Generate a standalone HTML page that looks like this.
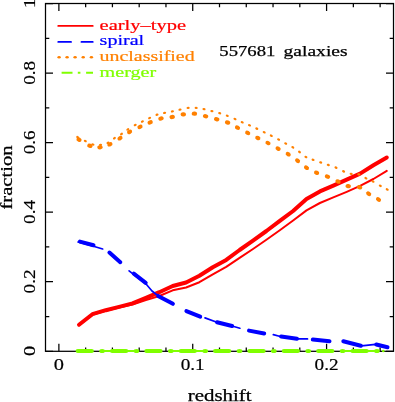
<!DOCTYPE html><html><head><meta charset="utf-8"><style>html,body{margin:0;padding:0;background:#fff}svg{will-change:transform;opacity:.999}</style></head><body><svg width="395" height="402" viewBox="0 0 395 402" style="display:block">
<rect width="395" height="402" fill="#fff"/>
<rect x="45.5" y="3.5" width="348.0" height="347.8" fill="none" stroke="#000" stroke-width="1.25"/>
<path d="M58.88 351.3 v-7.5 M58.88 3.5 v7.5 M85.65 351.3 v-3.8 M85.65 3.5 v3.8 M112.42 351.3 v-3.8 M112.42 3.5 v3.8 M139.19 351.3 v-3.8 M139.19 3.5 v3.8 M165.96 351.3 v-3.8 M165.96 3.5 v3.8 M192.73 351.3 v-7.5 M192.73 3.5 v7.5 M219.50 351.3 v-3.8 M219.50 3.5 v3.8 M246.27 351.3 v-3.8 M246.27 3.5 v3.8 M273.04 351.3 v-3.8 M273.04 3.5 v3.8 M299.81 351.3 v-3.8 M299.81 3.5 v3.8 M326.58 351.3 v-7.5 M326.58 3.5 v7.5 M353.35 351.3 v-3.8 M353.35 3.5 v3.8 M380.12 351.3 v-3.8 M380.12 3.5 v3.8 M45.5 351.30 h7.5 M393.5 351.30 h-7.5 M45.5 316.52 h3.8 M393.5 316.52 h-3.8 M45.5 281.74 h7.5 M393.5 281.74 h-7.5 M45.5 246.96 h3.8 M393.5 246.96 h-3.8 M45.5 212.18 h7.5 M393.5 212.18 h-7.5 M45.5 177.40 h3.8 M393.5 177.40 h-3.8 M45.5 142.62 h7.5 M393.5 142.62 h-7.5 M45.5 107.84 h3.8 M393.5 107.84 h-3.8 M45.5 73.06 h7.5 M393.5 73.06 h-7.5 M45.5 38.28 h3.8 M393.5 38.28 h-3.8 M45.5 3.50 h7.5 M393.5 3.50 h-7.5" stroke="#000" stroke-width="1.25" fill="none"/>
<polyline points="79.0,325.1 92.4,314.8 105.8,310.7 119.1,307.6 132.5,304.5 145.9,300.1 159.3,296.0 172.7,290.3 186.1,287.5 199.4,282.2 212.8,274.3 226.2,266.9 239.6,257.8 253.0,249.0 266.4,239.8 279.8,230.2 293.1,220.5 306.5,210.4 319.9,203.0 333.3,197.4 346.7,191.8 360.1,185.9 373.4,179.0 386.8,170.9" fill="none" stroke="#f00" stroke-width="2" stroke-linejoin="round" stroke-linecap="round"/>
<polyline points="79.0,324.7 92.4,314.2 105.8,310.2 119.1,306.9 132.5,303.4 145.9,297.9 159.3,292.2 172.7,286.0 186.1,282.5 199.4,275.8 212.8,267.2 226.2,259.9 239.6,250.0 253.0,240.6 266.4,231.0 279.8,220.9 293.1,211.0 306.5,199.1 319.9,191.4 333.3,185.6 346.7,179.6 360.1,173.6 373.4,165.3 386.8,157.6" fill="none" stroke="#f00" stroke-width="4.0" stroke-linejoin="round" stroke-linecap="round"/>
<polyline points="78.0,242.0 94.3,246.5 102.7,249.0" fill="none" stroke="#00f" stroke-width="1.7" stroke-linecap="round" stroke-linejoin="round"/>
<polyline points="129.1,270.8 146.3,284.3 152.0,291.0 156.4,294.5" fill="none" stroke="#00f" stroke-width="1.7" stroke-linecap="round" stroke-linejoin="round"/>
<polyline points="205.0,317.9 216.2,322.0 232.9,326.2 239.9,328.2" fill="none" stroke="#00f" stroke-width="1.7" stroke-linecap="round" stroke-linejoin="round"/>
<polyline points="273.3,334.6 280.3,336.5 297.8,338.9 307.5,338.9" fill="none" stroke="#00f" stroke-width="1.7" stroke-linecap="round" stroke-linejoin="round"/>
<polyline points="361.6,345.9 375.3,344.3 387.0,347.0" fill="none" stroke="#00f" stroke-width="1.7" stroke-linecap="round" stroke-linejoin="round"/>
<line x1="79.9" y1="241.6" x2="93.5" y2="245.3" stroke="#00f" stroke-width="4.0" stroke-linecap="round"/>
<line x1="109.4" y1="252.5" x2="120.3" y2="262.2" stroke="#00f" stroke-width="4.0" stroke-linecap="round"/>
<line x1="133.8" y1="273.7" x2="145.7" y2="282.8" stroke="#00f" stroke-width="4.0" stroke-linecap="round"/>
<line x1="158.1" y1="295.9" x2="172.9" y2="303.8" stroke="#00f" stroke-width="4.0" stroke-linecap="round"/>
<line x1="186.4" y1="311.1" x2="200.2" y2="316.7" stroke="#00f" stroke-width="4.0" stroke-linecap="round"/>
<line x1="217.0" y1="322.2" x2="232.1" y2="326.0" stroke="#00f" stroke-width="4.0" stroke-linecap="round"/>
<line x1="249.0" y1="330.6" x2="264.2" y2="333.5" stroke="#00f" stroke-width="4.0" stroke-linecap="round"/>
<line x1="281.1" y1="336.6" x2="297.0" y2="338.8" stroke="#00f" stroke-width="4.0" stroke-linecap="round"/>
<line x1="312.8" y1="339.6" x2="329.5" y2="341.2" stroke="#00f" stroke-width="4.0" stroke-linecap="round"/>
<line x1="343.3" y1="341.2" x2="360.8" y2="345.7" stroke="#00f" stroke-width="4.0" stroke-linecap="round"/>
<line x1="376.3" y1="344.5" x2="387.5" y2="347.2" stroke="#00f" stroke-width="4.0" stroke-linecap="round"/>
<ellipse cx="77.7" cy="137.2" rx="1.6" ry="1.15" fill="#ff8000" transform="rotate(27 77.7 137.2)"/>
<ellipse cx="85.3" cy="141" rx="1.6" ry="1.15" fill="#ff8000" transform="rotate(26 85.3 141)"/>
<ellipse cx="92.9" cy="144.5" rx="1.6" ry="1.15" fill="#ff8000" transform="rotate(14 92.9 144.5)"/>
<ellipse cx="100.5" cy="144.8" rx="1.6" ry="1.15" fill="#ff8000" transform="rotate(-6 100.5 144.8)"/>
<ellipse cx="108" cy="142.8" rx="1.6" ry="1.15" fill="#ff8000" transform="rotate(-25 108 142.8)"/>
<ellipse cx="114.4" cy="138.2" rx="1.6" ry="1.15" fill="#ff8000" transform="rotate(-33 114.4 138.2)"/>
<ellipse cx="121.5" cy="134" rx="1.6" ry="1.15" fill="#ff8000" transform="rotate(-33 121.5 134)"/>
<ellipse cx="127.8" cy="129.4" rx="1.6" ry="1.15" fill="#ff8000" transform="rotate(-33 127.8 129.4)"/>
<ellipse cx="135.2" cy="125" rx="1.6" ry="1.15" fill="#ff8000" transform="rotate(-28 135.2 125)"/>
<ellipse cx="142.4" cy="121.5" rx="1.6" ry="1.15" fill="#ff8000" transform="rotate(-26 142.4 121.5)"/>
<ellipse cx="149.6" cy="118" rx="1.6" ry="1.15" fill="#ff8000" transform="rotate(-25 149.6 118)"/>
<ellipse cx="157" cy="114.7" rx="1.6" ry="1.15" fill="#ff8000" transform="rotate(-19 157 114.7)"/>
<ellipse cx="164.6" cy="112.9" rx="1.6" ry="1.15" fill="#ff8000" transform="rotate(-12 164.6 112.9)"/>
<ellipse cx="172.4" cy="111.4" rx="1.6" ry="1.15" fill="#ff8000" transform="rotate(-12 172.4 111.4)"/>
<ellipse cx="180" cy="109.6" rx="1.6" ry="1.15" fill="#ff8000" transform="rotate(-13 180 109.6)"/>
<ellipse cx="188.1" cy="107.8" rx="1.6" ry="1.15" fill="#ff8000" transform="rotate(-6 188.1 107.8)"/>
<ellipse cx="196.2" cy="107.8" rx="1.6" ry="1.15" fill="#ff8000" transform="rotate(5 196.2 107.8)"/>
<ellipse cx="204" cy="109.1" rx="1.6" ry="1.15" fill="#ff8000" transform="rotate(12 204 109.1)"/>
<ellipse cx="211.9" cy="111.1" rx="1.6" ry="1.15" fill="#ff8000" transform="rotate(15 211.9 111.1)"/>
<ellipse cx="219.7" cy="113.2" rx="1.6" ry="1.15" fill="#ff8000" transform="rotate(17 219.7 113.2)"/>
<ellipse cx="227.3" cy="115.7" rx="1.6" ry="1.15" fill="#ff8000" transform="rotate(21 227.3 115.7)"/>
<ellipse cx="235" cy="119" rx="1.6" ry="1.15" fill="#ff8000" transform="rotate(24 235 119)"/>
<ellipse cx="242.2" cy="122.3" rx="1.6" ry="1.15" fill="#ff8000" transform="rotate(23 242.2 122.3)"/>
<ellipse cx="249.5" cy="125.3" rx="1.6" ry="1.15" fill="#ff8000" transform="rotate(23 249.5 125.3)"/>
<ellipse cx="256.8" cy="128.6" rx="1.6" ry="1.15" fill="#ff8000" transform="rotate(25 256.8 128.6)"/>
<ellipse cx="264.2" cy="132.2" rx="1.6" ry="1.15" fill="#ff8000" transform="rotate(26 264.2 132.2)"/>
<ellipse cx="271.3" cy="135.7" rx="1.6" ry="1.15" fill="#ff8000" transform="rotate(27 271.3 135.7)"/>
<ellipse cx="278.6" cy="139.5" rx="1.6" ry="1.15" fill="#ff8000" transform="rotate(28 278.6 139.5)"/>
<ellipse cx="285.7" cy="143.5" rx="1.6" ry="1.15" fill="#ff8000" transform="rotate(29 285.7 143.5)"/>
<ellipse cx="292.8" cy="147.3" rx="1.6" ry="1.15" fill="#ff8000" transform="rotate(32 292.8 147.3)"/>
<ellipse cx="299.5" cy="152" rx="1.6" ry="1.15" fill="#ff8000" transform="rotate(37 299.5 152)"/>
<ellipse cx="305.9" cy="157" rx="1.6" ry="1.15" fill="#ff8000" transform="rotate(30 305.9 157)"/>
<ellipse cx="313.1" cy="159.8" rx="1.6" ry="1.15" fill="#ff8000" transform="rotate(20 313.1 159.8)"/>
<ellipse cx="320.7" cy="162.4" rx="1.6" ry="1.15" fill="#ff8000" transform="rotate(19 320.7 162.4)"/>
<ellipse cx="328.3" cy="164.9" rx="1.6" ry="1.15" fill="#ff8000" transform="rotate(19 328.3 164.9)"/>
<ellipse cx="336" cy="167.6" rx="1.6" ry="1.15" fill="#ff8000" transform="rotate(23 336 167.6)"/>
<ellipse cx="343.6" cy="171.4" rx="1.6" ry="1.15" fill="#ff8000" transform="rotate(23 343.6 171.4)"/>
<ellipse cx="351.2" cy="173.9" rx="1.6" ry="1.15" fill="#ff8000" transform="rotate(11 351.2 173.9)"/>
<ellipse cx="358.8" cy="174.4" rx="1.6" ry="1.15" fill="#ff8000" transform="rotate(16 358.8 174.4)"/>
<ellipse cx="365.9" cy="178.2" rx="1.6" ry="1.15" fill="#ff8000" transform="rotate(27 365.9 178.2)"/>
<ellipse cx="373" cy="181.5" rx="1.6" ry="1.15" fill="#ff8000" transform="rotate(28 373 181.5)"/>
<ellipse cx="380.3" cy="185.8" rx="1.6" ry="1.15" fill="#ff8000" transform="rotate(29 380.3 185.8)"/>
<ellipse cx="387.2" cy="189.4" rx="1.6" ry="1.15" fill="#ff8000" transform="rotate(28 387.2 189.4)"/>
<ellipse cx="79" cy="139.7" rx="2.7" ry="2.1" fill="#ff8000" transform="rotate(29 79 139.7)"/>
<ellipse cx="89.9" cy="145.8" rx="2.7" ry="2.1" fill="#ff8000" transform="rotate(20 89.9 145.8)"/>
<ellipse cx="100" cy="147.3" rx="2.7" ry="2.1" fill="#ff8000" transform="rotate(-4 100 147.3)"/>
<ellipse cx="109.9" cy="144.3" rx="2.7" ry="2.1" fill="#ff8000" transform="rotate(-24 109.9 144.3)"/>
<ellipse cx="120" cy="138.2" rx="2.7" ry="2.1" fill="#ff8000" transform="rotate(-32 120 138.2)"/>
<ellipse cx="129.6" cy="131.9" rx="2.7" ry="2.1" fill="#ff8000" transform="rotate(-30 129.6 131.9)"/>
<ellipse cx="140" cy="126.8" rx="2.7" ry="2.1" fill="#ff8000" transform="rotate(-25 140 126.8)"/>
<ellipse cx="150.2" cy="122.4" rx="2.7" ry="2.1" fill="#ff8000" transform="rotate(-22 150.2 122.4)"/>
<ellipse cx="161" cy="118.5" rx="2.7" ry="2.1" fill="#ff8000" transform="rotate(-14 161 118.5)"/>
<ellipse cx="172.2" cy="117" rx="2.7" ry="2.1" fill="#ff8000" transform="rotate(-10 172.2 117)"/>
<ellipse cx="183.3" cy="114.4" rx="2.7" ry="2.1" fill="#ff8000" transform="rotate(-8 183.3 114.4)"/>
<ellipse cx="194.4" cy="113.7" rx="2.7" ry="2.1" fill="#ff8000" transform="rotate(5 194.4 113.7)"/>
<ellipse cx="205.6" cy="116.2" rx="2.7" ry="2.1" fill="#ff8000" transform="rotate(14 205.6 116.2)"/>
<ellipse cx="216.7" cy="119.2" rx="2.7" ry="2.1" fill="#ff8000" transform="rotate(16 216.7 119.2)"/>
<ellipse cx="227.6" cy="122.5" rx="2.7" ry="2.1" fill="#ff8000" transform="rotate(22 227.6 122.5)"/>
<ellipse cx="237.5" cy="127.7" rx="2.7" ry="2.1" fill="#ff8000" transform="rotate(27 237.5 127.7)"/>
<ellipse cx="247.7" cy="132.9" rx="2.7" ry="2.1" fill="#ff8000" transform="rotate(27 247.7 132.9)"/>
<ellipse cx="257.8" cy="138" rx="2.7" ry="2.1" fill="#ff8000" transform="rotate(26 257.8 138)"/>
<ellipse cx="268" cy="143" rx="2.7" ry="2.1" fill="#ff8000" transform="rotate(28 268 143)"/>
<ellipse cx="278.1" cy="148.6" rx="2.7" ry="2.1" fill="#ff8000" transform="rotate(29 278.1 148.6)"/>
<ellipse cx="288.2" cy="154.2" rx="2.7" ry="2.1" fill="#ff8000" transform="rotate(32 288.2 154.2)"/>
<ellipse cx="297.6" cy="160.7" rx="2.7" ry="2.1" fill="#ff8000" transform="rotate(36 297.6 160.7)"/>
<ellipse cx="306.5" cy="167.7" rx="2.7" ry="2.1" fill="#ff8000" transform="rotate(32 306.5 167.7)"/>
<ellipse cx="316.6" cy="172.7" rx="2.7" ry="2.1" fill="#ff8000" transform="rotate(23 316.6 172.7)"/>
<ellipse cx="327.5" cy="176.6" rx="2.7" ry="2.1" fill="#ff8000" transform="rotate(22 327.5 176.6)"/>
<ellipse cx="338" cy="181.5" rx="2.7" ry="2.1" fill="#ff8000" transform="rotate(25 338 181.5)"/>
<ellipse cx="348.2" cy="186.1" rx="2.7" ry="2.1" fill="#ff8000" transform="rotate(15 348.2 186.1)"/>
<ellipse cx="359.6" cy="187.3" rx="2.7" ry="2.1" fill="#ff8000" transform="rotate(20 359.6 187.3)"/>
<ellipse cx="368.7" cy="193.7" rx="2.7" ry="2.1" fill="#ff8000" transform="rotate(33 368.7 193.7)"/>
<ellipse cx="378.5" cy="199.5" rx="2.7" ry="2.1" fill="#ff8000" transform="rotate(31 378.5 199.5)"/>
<line x1="342" y1="351.0" x2="377" y2="351.0" stroke="#80ff00" stroke-width="2"/>
<line x1="172" y1="351.0" x2="206" y2="351.0" stroke="#80ff00" stroke-width="2"/>
<line x1="104" y1="351.0" x2="138" y2="351.0" stroke="#80ff00" stroke-width="2"/>
<line x1="77.7" y1="351.0" x2="91.8" y2="351.0" stroke="#80ff00" stroke-width="4.2" stroke-linecap="round"/>
<ellipse cx="102.1" cy="351.0" rx="2.9" ry="2.1" fill="#80ff00"/>
<line x1="112.1" y1="351.0" x2="126.2" y2="351.0" stroke="#80ff00" stroke-width="4.2" stroke-linecap="round"/>
<ellipse cx="136.5" cy="351.0" rx="2.9" ry="2.1" fill="#80ff00"/>
<line x1="146.4" y1="351.0" x2="160.5" y2="351.0" stroke="#80ff00" stroke-width="4.2" stroke-linecap="round"/>
<ellipse cx="170.8" cy="351.0" rx="2.9" ry="2.1" fill="#80ff00"/>
<line x1="180.8" y1="351.0" x2="194.8" y2="351.0" stroke="#80ff00" stroke-width="4.2" stroke-linecap="round"/>
<ellipse cx="205.2" cy="351.0" rx="2.9" ry="2.1" fill="#80ff00"/>
<line x1="215.1" y1="351.0" x2="229.2" y2="351.0" stroke="#80ff00" stroke-width="4.2" stroke-linecap="round"/>
<ellipse cx="239.5" cy="351.0" rx="2.9" ry="2.1" fill="#80ff00"/>
<line x1="249.4" y1="351.0" x2="263.6" y2="351.0" stroke="#80ff00" stroke-width="4.2" stroke-linecap="round"/>
<ellipse cx="273.8" cy="351.0" rx="2.9" ry="2.1" fill="#80ff00"/>
<line x1="283.8" y1="351.0" x2="297.9" y2="351.0" stroke="#80ff00" stroke-width="4.2" stroke-linecap="round"/>
<ellipse cx="308.2" cy="351.0" rx="2.9" ry="2.1" fill="#80ff00"/>
<line x1="318.2" y1="351.0" x2="332.3" y2="351.0" stroke="#80ff00" stroke-width="4.2" stroke-linecap="round"/>
<ellipse cx="342.6" cy="351.0" rx="2.9" ry="2.1" fill="#80ff00"/>
<line x1="352.5" y1="351.0" x2="366.6" y2="351.0" stroke="#80ff00" stroke-width="4.2" stroke-linecap="round"/>
<ellipse cx="376.9" cy="351.0" rx="2.9" ry="2.1" fill="#80ff00"/>
<ellipse cx="383.3" cy="351.0" rx="1.3" ry="1.2" fill="#80ff00"/>
<text x="53.8" y="370.4" font-family="Liberation Serif, serif" font-size="16.4" stroke="#000" stroke-width="0.18" textLength="10.2" lengthAdjust="spacingAndGlyphs">0</text>
<text x="180.7" y="370.4" font-family="Liberation Serif, serif" font-size="16.4" stroke="#000" stroke-width="0.18" textLength="24.0" lengthAdjust="spacingAndGlyphs">0.1</text>
<text x="314.6" y="370.4" font-family="Liberation Serif, serif" font-size="16.4" stroke="#000" stroke-width="0.18" textLength="24.0" lengthAdjust="spacingAndGlyphs">0.2</text>
<text transform="translate(35.3 356.1) rotate(-90)" font-family="Liberation Serif, serif" font-size="16.4" stroke="#000" stroke-width="0.18" textLength="10.2" lengthAdjust="spacingAndGlyphs">0</text>
<text transform="translate(35.3 293.4) rotate(-90)" font-family="Liberation Serif, serif" font-size="16.4" stroke="#000" stroke-width="0.18" textLength="24.0" lengthAdjust="spacingAndGlyphs">0.2</text>
<text transform="translate(35.3 223.9) rotate(-90)" font-family="Liberation Serif, serif" font-size="16.4" stroke="#000" stroke-width="0.18" textLength="24.0" lengthAdjust="spacingAndGlyphs">0.4</text>
<text transform="translate(35.3 154.3) rotate(-90)" font-family="Liberation Serif, serif" font-size="16.4" stroke="#000" stroke-width="0.18" textLength="24.0" lengthAdjust="spacingAndGlyphs">0.6</text>
<text transform="translate(35.3 84.8) rotate(-90)" font-family="Liberation Serif, serif" font-size="16.4" stroke="#000" stroke-width="0.18" textLength="24.0" lengthAdjust="spacingAndGlyphs">0.8</text>
<text transform="translate(35.3 8.3) rotate(-90)" font-family="Liberation Serif, serif" font-size="16.4" stroke="#000" stroke-width="0.18" textLength="10.2" lengthAdjust="spacingAndGlyphs">1</text>
<text x="187.8" y="400.7" font-family="Liberation Serif, serif" font-size="16.2" stroke="#000" stroke-width="0.25" textLength="63.8" lengthAdjust="spacingAndGlyphs">redshift</text>
<text transform="translate(12.4 209.5) rotate(-90)" font-family="Liberation Serif, serif" font-size="16.2" stroke="#000" stroke-width="0.25" textLength="64" lengthAdjust="spacingAndGlyphs">fraction</text>
<text x="99.6" y="29.8" font-family="Liberation Serif, serif" font-size="15.6" fill="#f00" stroke="#f00" stroke-width="0.22" textLength="86.5" lengthAdjust="spacingAndGlyphs">early–type</text>
<text x="99.6" y="45.4" font-family="Liberation Serif, serif" font-size="15.6" fill="#00f" stroke="#00f" stroke-width="0.22" textLength="44.6" lengthAdjust="spacingAndGlyphs">spiral</text>
<text x="99.6" y="61.0" font-family="Liberation Serif, serif" font-size="15.6" fill="#ff8000" stroke="#ff8000" stroke-width="0.22" textLength="95" lengthAdjust="spacingAndGlyphs">unclassified</text>
<text x="99.6" y="76.7" font-family="Liberation Serif, serif" font-size="15.6" fill="#80ff00" stroke="#80ff00" stroke-width="0.22" textLength="56.6" lengthAdjust="spacingAndGlyphs">merger</text>
<line x1="58.3" y1="25.9" x2="92.7" y2="25.9" stroke="#f00" stroke-width="1.9" stroke-linecap="round"/>
<path d="M58.3 41.9 H71 M81.5 41.9 H92.7" stroke="#00f" stroke-width="1.9" stroke-linecap="round"/>
<ellipse cx="59.1" cy="57.3" rx="1.7" ry="1.2" fill="#ff8000"/>
<ellipse cx="67.1" cy="57.3" rx="1.7" ry="1.2" fill="#ff8000"/>
<ellipse cx="75.1" cy="57.3" rx="1.7" ry="1.2" fill="#ff8000"/>
<ellipse cx="83.2" cy="57.3" rx="1.7" ry="1.2" fill="#ff8000"/>
<ellipse cx="91.4" cy="57.3" rx="1.7" ry="1.2" fill="#ff8000"/>
<path d="M61.6 72.7 H72.5 M77.8 72.7 H80.4 M86.1 72.7 H93" stroke="#80ff00" stroke-width="2"/>
<text x="219.3" y="55.9" font-family="Liberation Serif, serif" font-size="15.6" stroke="#000" stroke-width="0.25" textLength="56" lengthAdjust="spacingAndGlyphs">557681</text>
<text x="283.6" y="55.9" font-family="Liberation Serif, serif" font-size="15.6" stroke="#000" stroke-width="0.25" textLength="64" lengthAdjust="spacingAndGlyphs">galaxies</text>
</svg></body></html>
